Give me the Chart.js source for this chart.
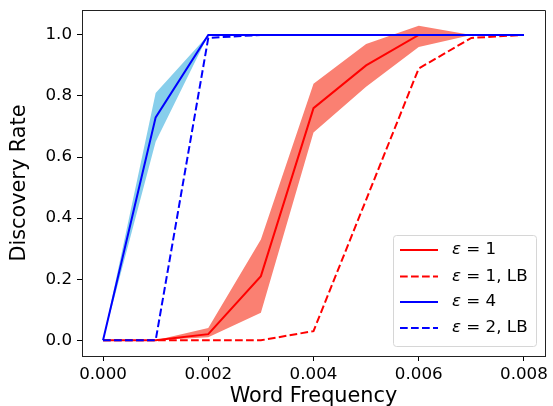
<!DOCTYPE html>
<html>
<head>
<meta charset="utf-8">
<script src="https://cdn.jsdelivr.net/npm/chart.js@4.4.0/dist/chart.umd.min.js"></script>
<style>
  html, body { margin: 0; padding: 0; background: #fff; }
  #wrap { width: 553px; height: 406px; }
</style>
</head>
<body>
<div id="wrap"><canvas id="c" width="553" height="406"></canvas></div>
<script>
// ---- data ----
const wordFreq   = [0, 0.001, 0.002, 0.003, 0.004, 0.005, 0.006, 0.007, 0.008];
const eps1       = [0, 0, 0.02, 0.21, 0.76, 0.90, 1.00, 1.00, 1.00];
const eps1Lower  = [0, 0, 0.01, 0.09, 0.68, 0.83, 0.96, 1.00, 1.00];
const eps1Upper  = [0, 0, 0.04, 0.33, 0.84, 0.97, 1.03, 1.00, 1.00];
const eps1LB     = [0, 0, 0, 0, 0.03, 0.46, 0.89, 0.99, 1.00];
const eps4       = [0, 0.73, 1.00, 1.00, 1.00, 1.00, 1.00, 1.00, 1.00];
const eps4Lower  = [0, 0.65, 1.00, 1.00, 1.00, 1.00, 1.00, 1.00, 1.00];
const eps4Upper  = [0, 0.81, 1.00, 1.00, 1.00, 1.00, 1.00, 1.00, 1.00];
const eps2LB     = [0, 0, 0.99, 1.00, 1.00, 1.00, 1.00, 1.00, 1.00];
const xTicks     = [0, 0.002, 0.004, 0.006, 0.008];
const yTicks     = [0, 0.2, 0.4, 0.6, 0.8, 1.0];
const legendLabels = [
  {sym: 'ε', rest: ' = 1',     tail: '',     color: '#ff0000', dash: []},
  {sym: 'ε', rest: ' = 1',     tail: ', LB', color: '#ff0000', dash: [7.7, 3.3]},
  {sym: 'ε', rest: ' = 4',     tail: '',     color: '#0000ff', dash: []},
  {sym: 'ε', rest: ' = 2',     tail: ', LB', color: '#0000ff', dash: [7.7, 3.3]}
];

const pts = arr => arr.map((v, i) => ({x: wordFreq[i], y: v}));
const FONT = "'DejaVu Sans', sans-serif";

const bandBase = {pointRadius: 0, borderWidth: 0, tension: 0};
const lineBase = {pointRadius: 0, borderWidth: 2, tension: 0, fill: false};

const datasets = [
  Object.assign({label: 'e1lo', data: pts(eps1Lower), fill: false, order: 10}, bandBase),
  Object.assign({label: 'e1hi', data: pts(eps1Upper), fill: 0, backgroundColor: '#fa8072', order: 9}, bandBase),
  Object.assign({label: 'e4lo', data: pts(eps4Lower), fill: false, order: 8}, bandBase),
  Object.assign({label: 'e4hi', data: pts(eps4Upper), fill: 2, backgroundColor: '#87ceeb', order: 7}, bandBase),
  Object.assign({label: 'eps1', data: pts(eps1), borderColor: '#ff0000', order: 4}, lineBase),
  Object.assign({label: 'eps1LB', data: pts(eps1LB), borderColor: '#ff0000', borderDash: [7.7, 3.3], order: 3}, lineBase),
  Object.assign({label: 'eps4', data: pts(eps4), borderColor: '#0000ff', order: 2}, lineBase),
  Object.assign({label: 'eps2LB', data: pts(eps2LB), borderColor: '#0000ff', borderDash: [7.7, 3.3], order: 1}, lineBase)
];

const framePlugin = {
  id: 'frame',
  afterDatasetsDraw(chart) {
    const {ctx, chartArea: a} = chart;
    ctx.save();
    ctx.strokeStyle = '#222';
    ctx.lineWidth = 1;
    ctx.beginPath();
    ctx.moveTo(Math.round(a.left) + 0.5, Math.round(a.top) + 0.5);
    ctx.lineTo(Math.round(a.right) + 0.5, Math.round(a.top) + 0.5);
    ctx.lineTo(Math.round(a.right) + 0.5, Math.round(a.bottom) + 0.5);
    ctx.stroke();
    ctx.restore();
  }
};

const legendPlugin = {
  id: 'mplLegend',
  afterDraw(chart) {
    const ctx = chart.ctx;
    ctx.save();
    const bx = 393.5, by = 235.5, bw = 143, bh = 111, r = 3;
    ctx.beginPath();
    ctx.moveTo(bx + r, by);
    ctx.lineTo(bx + bw - r, by);
    ctx.arcTo(bx + bw, by, bx + bw, by + r, r);
    ctx.lineTo(bx + bw, by + bh - r);
    ctx.arcTo(bx + bw, by + bh, bx + bw - r, by + bh, r);
    ctx.lineTo(bx + r, by + bh);
    ctx.arcTo(bx, by + bh, bx, by + bh - r, r);
    ctx.lineTo(bx, by + r);
    ctx.arcTo(bx, by, bx + r, by, r);
    ctx.closePath();
    ctx.fillStyle = 'rgba(255,255,255,0.8)';
    ctx.fill();
    ctx.strokeStyle = '#d6d6d6';
    ctx.lineWidth = 1;
    ctx.stroke();
    const rows = [250, 276.5, 302, 328];
    legendLabels.forEach((it, i) => {
      const y = rows[i];
      ctx.beginPath();
      ctx.setLineDash(it.dash);
      ctx.strokeStyle = it.color;
      ctx.lineWidth = 2;
      ctx.moveTo(400, y);
      ctx.lineTo(438, y);
      ctx.stroke();
      ctx.setLineDash([]);
      ctx.fillStyle = '#000';
      ctx.textBaseline = 'middle';
      ctx.textAlign = 'left';
      let x = 452;
      ctx.font = "italic 16.7px " + FONT;
      ctx.fillText(it.sym, x, y);
      x += ctx.measureText(it.sym).width;
      ctx.font = "16.7px " + FONT;
      ctx.fillText(it.rest + it.tail, x, y);
    });
    ctx.restore();
  }
};

new Chart(document.getElementById('c'), {
  type: 'line',
  data: {datasets},
  plugins: [framePlugin, legendPlugin],
  options: {
    responsive: false,
    animation: false,
    devicePixelRatio: 1,
    layout: {padding: {top: 10, right: 8, left: 0, bottom: 0}},
    plugins: {
      legend: {display: false},
      tooltip: {enabled: false},
      filler: {drawTime: 'beforeDatasetsDraw'}
    },
    scales: {
      x: {
        type: 'linear',
        min: -0.0004, max: 0.0084,
        afterBuildTicks: s => { s.ticks = xTicks.map(v => ({value: v})); },
        afterFit: s => { s.height = 50; s.paddingLeft = 0; s.paddingRight = 0; },
        grid: {drawOnChartArea: false, drawTicks: true, tickLength: 5, color: '#000', tickWidth: 1},
        border: {display: true, color: '#222', width: 1},
        ticks: {
          color: '#000', padding: 4, maxRotation: 0, autoSkip: false,
          font: {family: FONT, size: 16.7},
          callback: v => Number(v).toFixed(3)
        },
        title: {display: true, text: 'Word Frequency', color: '#000', font: {family: FONT, size: 20.8}, padding: {top: 0, bottom: -3}}
      },
      y: {
        type: 'linear',
        min: -0.0515, max: 1.0815,
        afterBuildTicks: s => { s.ticks = yTicks.map(v => ({value: v})); },
        afterFit: s => { s.width = 82; s.paddingTop = 0; s.paddingBottom = 0; },
        grid: {drawOnChartArea: false, drawTicks: true, tickLength: 5, color: '#000', tickWidth: 1},
        border: {display: true, color: '#222', width: 1},
        ticks: {
          color: '#000', padding: 5, autoSkip: false,
          font: {family: FONT, size: 16.7},
          callback: v => Number(v).toFixed(1)
        },
        title: {display: true, text: 'Discovery Rate', color: '#000', font: {family: FONT, size: 20.8}, padding: {top: 7, bottom: 0}}
      }
    }
  },
});
</script>
</body>
</html>
